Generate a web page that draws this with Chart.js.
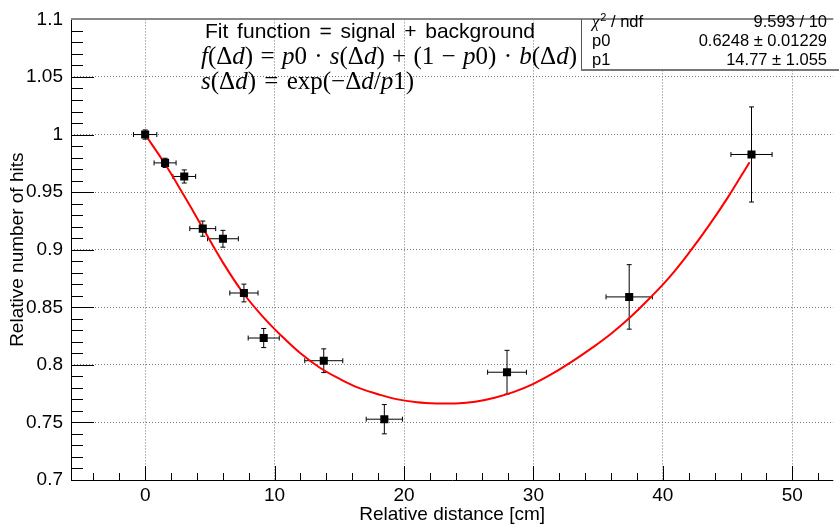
<!DOCTYPE html>
<html><head><meta charset="utf-8">
<script src="https://cdn.jsdelivr.net/npm/chart.js@4.4.0/dist/chart.umd.min.js"></script>
<style>html,body{margin:0;padding:0;background:#fff;}#wrap{width:839px;height:524px;position:relative;}</style>
</head><body><div id="wrap"><canvas id="c" width="839" height="524"></canvas></div>
<script>
// ---- data ----
const xVals = [0, 1.54, 3.02, 4.45, 6.01, 7.63, 9.16, 13.8, 18.48, 27.96, 37.4, 46.85];
const yVals = [1.000, 0.9754, 0.9636, 0.9183, 0.9095, 0.8624, 0.8233, 0.8036, 0.7528, 0.7936, 0.859, 0.9827];
const xErr  = [0.9, 0.85, 0.88, 1.0, 1.19, 1.09, 1.2, 1.47, 1.4, 1.5, 1.79, 1.59];
const yErr  = [0.004, 0.004, 0.0057, 0.0066, 0.0073, 0.0077, 0.0083, 0.0103, 0.0127, 0.019, 0.028, 0.0413];
// fit curve
const curveX = [0, 1.5, 3, 4.5, 6, 7.5, 9, 10.5, 12, 13.5, 15, 16.5, 18, 19.5, 21, 22.5, 24, 25.5, 27, 28.5, 30, 31.5, 33, 34.5, 36, 37.5, 39, 40.5, 42, 43.5, 45, 46.7];
const curveY = [1.000, 0.975, 0.947, 0.918, 0.889, 0.8635, 0.843, 0.8255, 0.810, 0.7975, 0.788, 0.780, 0.7745, 0.770, 0.7675, 0.7665, 0.7665, 0.768, 0.7715, 0.7765, 0.7835, 0.7925, 0.803, 0.8145, 0.827, 0.8415, 0.858, 0.876, 0.897, 0.920, 0.945, 0.976];
const xTicks = [0, 10, 20, 30, 40, 50];
const xTickLabels = ['0', '10', '20', '30', '40', '50'];
const yTicks = [0.7, 0.75, 0.8, 0.85, 0.9, 0.95, 1, 1.05, 1.1];
const yTickLabels = ['0.7', '0.75', '0.8', '0.85', '0.9', '0.95', '1', '1.05', '1.1'];
const xTitle = 'Relative distance [cm]';
const yTitle = 'Relative number of hits';
const statsLabels = ['χ² / ndf', 'p0', 'p1'];
const statsValues = ['9.593 / 10', '0.6248 ± 0.01229', '14.77 ± 1.055'];
const boxTitle = 'Fit function = signal + background';

const SANS = '"Liberation Sans", Arial, Helvetica, sans-serif';
const SERIF = '"Liberation Serif", "Times New Roman", serif';

const points = xVals.map((x, i) => ({x: x, y: yVals[i]}));
const curve = curveX.map((x, i) => ({x: x, y: curveY[i]}));

// draws mixed italic/roman math text, stretching the spaces so the line spans `width`
function drawMath(ctx, tokens, x, y, size, width) {
  let natural = 0, spaces = 0;
  for (const [t, s] of tokens) {
    ctx.font = (s === 'i' ? 'italic ' : '') + size + 'px ' + SERIF;
    natural += ctx.measureText(t).width;
    spaces += (t.match(/ /g) || []).length;
  }
  const extra = spaces ? Math.max(0, (width - natural) / spaces) : 0;
  let cx = x;
  for (const [t, s] of tokens) {
    ctx.font = (s === 'i' ? 'italic ' : '') + size + 'px ' + SERIF;
    for (const ch of t) {
      ctx.fillText(ch, cx, y);
      cx += ctx.measureText(ch).width + (ch === ' ' ? extra : 0);
    }
  }
}

const overlay = {
  id: 'overlay',
  beforeDatasetsDraw(chart) {
    const {ctx, scales: {x, y}} = chart;
    ctx.save();
    ctx.strokeStyle = '#000';
    ctx.lineWidth = 1;
    const cap = 2.5;
    points.forEach((p, i) => {
      const px = x.getPixelForValue(p.x), py = y.getPixelForValue(p.y);
      const xl = x.getPixelForValue(p.x - xErr[i]), xr = x.getPixelForValue(p.x + xErr[i]);
      const yt = y.getPixelForValue(p.y + yErr[i]), yb = y.getPixelForValue(p.y - yErr[i]);
      ctx.beginPath();
      ctx.moveTo(xl, py); ctx.lineTo(xr, py);
      ctx.moveTo(xl, py - cap); ctx.lineTo(xl, py + cap);
      ctx.moveTo(xr, py - cap); ctx.lineTo(xr, py + cap);
      ctx.moveTo(px, yt); ctx.lineTo(px, yb);
      ctx.moveTo(px - cap, yt); ctx.lineTo(px + cap, yt);
      ctx.moveTo(px - cap, yb); ctx.lineTo(px + cap, yb);
      ctx.stroke();
    });
    ctx.restore();
  },
  afterDraw(chart) {
    const {ctx, chartArea: a, scales: {x, y}} = chart;
    ctx.save();
    // ticks (inside the frame)
    ctx.strokeStyle = '#000';
    ctx.lineWidth = 1;
    ctx.beginPath();
    for (let v = -4; v <= 52; v += 2) {
      const px = Math.round(x.getPixelForValue(v)) + 0.5;
      if (px < a.left || px > a.right) continue;
      const len = (v % 10 === 0) ? 14 : 7;
      ctx.moveTo(px, a.bottom); ctx.lineTo(px, a.bottom - len);
    }
    for (let k = 70; k <= 110; k++) {
      const py = Math.round(y.getPixelForValue(k / 100)) + 0.5;
      const len = (k % 5 === 0) ? 23 : 12;
      ctx.moveTo(a.left, py); ctx.lineTo(a.left + len, py);
    }
    ctx.stroke();
    // frame
    ctx.beginPath();
    ctx.moveTo(Math.round(a.left) + 0.5, a.top);
    ctx.lineTo(Math.round(a.left) + 0.5, Math.round(a.bottom) + 0.5);
    ctx.lineTo(a.right, Math.round(a.bottom) + 0.5);
    ctx.stroke();
    ctx.strokeStyle = '#888';
    ctx.lineWidth = 2;
    ctx.beginPath();
    ctx.moveTo(a.left, Math.round(a.top));
    ctx.lineTo(a.right, Math.round(a.top));
    ctx.stroke();

    // stats box
    const bx = 581, by = Math.round(a.top), bb = 70;
    ctx.fillStyle = '#fff';
    ctx.fillRect(bx, by + 1, 839 - bx, bb - by - 1);
    ctx.strokeStyle = '#555';
    ctx.lineWidth = 1;
    ctx.beginPath();
    ctx.moveTo(bx + 0.5, by); ctx.lineTo(bx + 0.5, bb);
    ctx.stroke();
    ctx.strokeStyle = '#777';
    ctx.lineWidth = 2;
    ctx.beginPath();
    ctx.moveTo(bx, bb); ctx.lineTo(839, bb);
    ctx.stroke();
    ctx.fillStyle = '#000';
    ctx.textBaseline = 'middle';
    const rowY = [22.7, 41.7, 60.7];
    statsLabels.forEach((lab, i) => {
      ctx.font = '16.5px ' + SANS;
      ctx.textAlign = 'left';
      if (i === 0) {
        ctx.font = 'italic 16.5px ' + SERIF;
        ctx.fillText('χ', 592, rowY[i]);
        let w = ctx.measureText('χ').width;
        ctx.font = '11px ' + SANS;
        ctx.fillText('2', 592 + w + 1, rowY[i] - 5);
        let w2 = ctx.measureText('2').width;
        ctx.font = '16.5px ' + SANS;
        ctx.fillText(' / ndf', 592 + w + w2 + 1, rowY[i]);
      } else {
        ctx.fillText(lab, 592, rowY[i]);
      }
      ctx.textAlign = 'right';
      ctx.fillText(statsValues[i], 827, rowY[i]);
    });

    // fit-function text box
    ctx.textAlign = 'left';
    ctx.textBaseline = 'alphabetic';
    ctx.font = '21px ' + SANS;
    const words = boxTitle.split(' ');
    const wsum = words.reduce((s, w) => s + ctx.measureText(w).width, 0);
    const gap = Math.max(ctx.measureText(' ').width, (330 - wsum) / (words.length - 1));
    let cx = 205;
    words.forEach(w => { ctx.fillText(w, cx, 38); cx += ctx.measureText(w).width + gap; });
    const line2 = [['f','i'],['(Δ','r'],['d','i'],[') = ','r'],['p','i'],['0 · ','r'],['s','i'],['(Δ','r'],['d','i'],[') + (1 − ','r'],['p','i'],['0) · ','r'],['b','i'],['(Δ','r'],['d','i'],[')','r']];
    const line3 = [['s','i'],['(Δ','r'],['d','i'],[') = exp(−Δ','r'],['d','i'],['/','r'],['p','i'],['1)','r']];
    drawMath(ctx, line2, 201, 64, 25, 376);
    drawMath(ctx, line3, 201, 89, 25, 213);
    ctx.restore();
  }
};

const gridColor = (ctx) => {
  const v = ctx.tick ? ctx.tick.value : null;
  return (v === 0.7 || v === 1.1) ? 'rgba(0,0,0,0)' : '#777';
};

new Chart(document.getElementById('c'), {
  type: 'scatter',
  data: {
    datasets: [
      {data: points, pointStyle: 'rect', pointRadius: 5.7, pointHoverRadius: 5.7, backgroundColor: '#000', borderColor: '#000', borderWidth: 0, order: 0},
      {type: 'line', data: curve, borderColor: '#ff0000', borderWidth: 2, pointRadius: 0, fill: false, tension: 0.4, order: 1}
    ]
  },
  options: {
    responsive: false, animation: false, events: [],
    layout: {padding: {top: 13, right: 0, left: 0, bottom: 0}},
    plugins: {legend: {display: false}, tooltip: {enabled: false}},
    scales: {
      x: {
        type: 'linear', min: -5.73, max: 53.17,
        afterBuildTicks: s => { s.ticks = xTicks.map(v => ({value: v})); },
        afterFit: s => { s.height = 44; },
        ticks: {color: '#000', font: {family: SANS, size: 19}, padding: 4, maxRotation: 0, autoSkip: false,
          callback: (v) => { const i = xTicks.indexOf(v); return i >= 0 ? xTickLabels[i] : ''; }},
        grid: {drawTicks: false, color: gridColor, lineWidth: 1},
        border: {display: false, dash: [1, 2]},
        title: {display: true, text: xTitle, color: '#000', font: {family: SANS, size: 19, lineHeight: 1.0}, padding: {top: 0, bottom: 0}}
      },
      y: {
        type: 'linear', min: 0.7, max: 1.1,
        afterBuildTicks: s => { s.ticks = yTicks.map(v => ({value: v})); },
        afterFit: s => { s.width = 71; },
        ticks: {color: '#000', font: {family: SANS, size: 19}, padding: 8, autoSkip: false,
          callback: (v) => { const i = yTicks.findIndex(t => Math.abs(t - v) < 1e-9); return i >= 0 ? yTickLabels[i] : ''; }},
        grid: {drawTicks: false, color: gridColor, lineWidth: 1},
        border: {display: false, dash: [1, 2]},
        title: {display: true, text: yTitle, color: '#000', font: {family: SANS, size: 19}, padding: {top: 6, bottom: 0}}
      }
    }
  },
  plugins: [overlay]
});
</script></body></html>
